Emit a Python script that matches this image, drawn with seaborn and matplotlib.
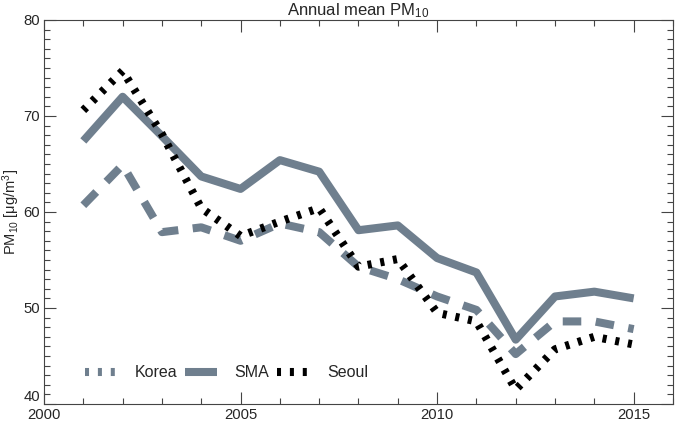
import matplotlib
matplotlib.use('Agg')
import matplotlib.pyplot as plt
from matplotlib.lines import Line2D
from matplotlib.ticker import MultipleLocator
import numpy as np
import pandas as pd
import seaborn as sns

years = list(range(2001, 2016))
korea = [60.7, 64.9, 57.9, 58.4, 57.0, 58.8, 57.9, 54.3, 53.0, 51.2, 49.8, 45.2, 48.6, 48.6, 47.8]
sma = [67.4, 72.0, 67.9, 63.7, 62.4, 65.4, 64.2, 58.1, 58.6, 55.2, 53.7, 46.7, 51.2, 51.7, 51.0]
seoul = [70.6, 74.7, 68.1, 60.4, 57.5, 59.0, 60.4, 54.3, 55.1, 49.5, 48.6, 41.5, 45.7, 47.0, 46.2]
series_names = ['Korea', 'SMA', 'Seoul']

grey = '#6f7f8e'
palette = {'Korea': grey, 'SMA': grey, 'Seoul': 'black'}
dashes = {'Korea': (2.3, 1.8), 'SMA': '', 'Seoul': (0.5, 1.1)}

df = pd.DataFrame({
    'Year': years * 3,
    'PM10': korea + sma + seoul,
    'Series': sum([[n] * len(years) for n in series_names], []),
})

sns.set_style('ticks')
plt.rcParams['font.family'] = ['Liberation Sans', 'DejaVu Sans']
plt.rcParams['mathtext.default'] = 'regular'

fig = plt.figure(figsize=(6.75, 4.22), dpi=100)
ax = fig.add_axes([0.0652, 0.0427, 0.9318, 0.91])

sns.lineplot(data=df, x='Year', y='PM10', hue='Series', style='Series',
             palette=palette, dashes=dashes, linewidth=5.8, legend=False, ax=ax)
for line in ax.get_lines():
    line.set_solid_capstyle('butt')
    line.set_dash_capstyle('butt')

ax.set_xlim(2000, 2016)
ax.set_ylim(40, 80)
ax.set_xticks([2000, 2005, 2010, 2015])
ax.xaxis.set_minor_locator(MultipleLocator(1))
ax.set_yticks([40, 50, 60, 70, 80])
ax.yaxis.set_minor_locator(MultipleLocator(1))
ax.tick_params(which='both', direction='in', top=True, right=True, color='#444444',
               labelsize=10.7, width=0.8)
ax.tick_params(which='major', length=8.5)
ax.tick_params(which='minor', length=4.3)
ax.tick_params(axis='y', pad=3)
ax.tick_params(axis='x', pad=3)
for sp in ax.spines.values():
    sp.set_color('#444444')
    sp.set_linewidth(0.8)

ax.set_xlabel('')
ax.set_ylabel('PM$_{10}$ [μg/m$^3$]', fontsize=10.5, labelpad=1)
ax.set_title('Annual mean PM$_{10}$', fontsize=12, pad=1)

handles = [
    Line2D([], [], color=grey, linewidth=5.8, dashes=(0.5, 1.1), dash_capstyle='butt'),
    Line2D([], [], color=grey, linewidth=5.8, solid_capstyle='butt'),
    Line2D([], [], color='black', linewidth=5.8, dashes=(0.5, 1.1), dash_capstyle='butt'),
]
ax.legend(handles, series_names, loc='center left', bbox_to_anchor=(0.065, 0.081),
          ncol=3, frameon=False, fontsize=11.5, handlelength=2.0, handletextpad=1.1,
          columnspacing=0.5, borderpad=0, borderaxespad=0)

# lowest y label sits above its tick, clear of the 2000 label
ax.yaxis.get_major_ticks()[0].label1.set_verticalalignment('bottom')

fig.savefig('out.png', dpi=100)
